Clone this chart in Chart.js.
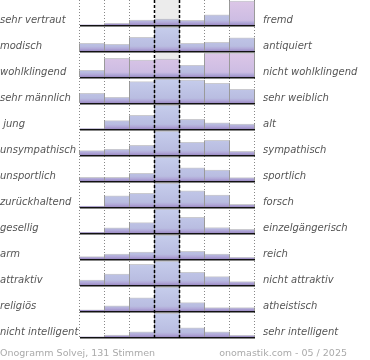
<!DOCTYPE html>
<html lang="de">
<head>
  <meta charset="UTF-8">
  <title>Onogramm Solvej</title>
  <script src="https://cdn.jsdelivr.net/npm/chart.js"></script>
  <style>
    html, body { margin: 0; padding: 0; background: #fff; }
    .wrap { position: relative; width: 370px; height: 360px; }
    .foot {
      position: absolute;
      top: 347px;
      font: 9.5px 'DejaVu Sans', sans-serif;
      line-height: 12px;
      color: #aaa;
      white-space: nowrap;
    }
    .foot.left { left: 0; }
    .foot.right { right: 23px; }
  </style>
</head>
<body>
  <div class="wrap">
    <canvas id="onogramm"></canvas>
    <div class="foot left">Onogramm Solvej, 131 Stimmen</div>
    <div class="foot right">onomastik.com - 05 / 2025</div>
  </div>

  <script>
    // left / right poles of each scale
    const leftLabels = ['sehr vertraut', 'modisch', 'wohlklingend', 'sehr männlich', ' jung', 'unsympathisch',
      'unsportlich', 'zurückhaltend', 'gesellig', 'arm', 'attraktiv', 'religiös', 'nicht intelligent'];
    const rightLabels = ['fremd', 'antiquiert', 'nicht wohlklingend', 'sehr weiblich', 'alt', 'sympathisch',
      'sportlich', 'forsch', 'einzelgängerisch', 'reich', 'nicht attraktiv', 'atheistisch', 'sehr intelligent'];
    const steps = ['1', '2', '3', '4', '5', '6', '7'];

    // bar heights per row, in % of the row's tallest bar
    const shares = [
      [0, 7, 21, 25, 19, 42, 100],
      [32, 28, 57, 100, 32, 36, 55],
      [28, 78, 71, 75, 49, 99, 100],
      [40, 24, 89, 100, 96, 82, 57],
      [2, 35, 57, 100, 40, 26, 20],
      [18, 24, 40, 100, 53, 61, 15],
      [15, 15, 32, 100, 55, 45, 14],
      [4, 47, 57, 100, 67, 50, 11],
      [3, 22, 43, 100, 65, 23, 15],
      [10, 20, 29, 100, 32, 20, 7],
      [21, 45, 86, 100, 53, 35, 14],
      [5, 22, 55, 100, 35, 14, 14],
      [0, 8, 22, 100, 38, 22, 7]
    ];

    const ROWS = leftLabels.length;
    const BAR_FILL = 24 / 26;     // tallest bar vs row height
    const LABEL_LIFT = 4.5 / 26;  // label sits just above the row baseline
    const Y_MAX = 337 / 26;
    const CENTER = 3;

    const labelFont = { family: "'DejaVu Sans', sans-serif", size: 10, style: 'italic' };

    function rowTicks(scale) {
      scale.ticks = leftLabels.map((_, r) => ({ value: ROWS - 1 - r + LABEL_LIFT })).reverse();
    }

    function barFill(ctx, r) {
      const chart = ctx.chart;
      const y = chart.scales.y;
      if (!y || !chart.chartArea || ctx.dataIndex === undefined) return '#c3c9e9';
      const base = ROWS - 1 - r;
      const bottom = y.getPixelForValue(base);
      const top = y.getPixelForValue(base + BAR_FILL);
      const row = shares[r];
      const max = Math.max(...row);
      const pink = row.indexOf(max) !== CENTER && row[ctx.dataIndex] >= 0.65 * max;
      const g = chart.ctx.createLinearGradient(0, top, 0, bottom);
      g.addColorStop(0, pink ? '#dcc6e7' : '#c6cdec');
      g.addColorStop(0.8, pink ? '#cdbde3' : '#b9bde1');
      g.addColorStop(0.9, '#b1a9d8');
      g.addColorStop(1, '#9c8bc5');
      return g;
    }

    const datasets = shares.map((row, r) => {
      const base = ROWS - 1 - r;
      const max = Math.max(...row);
      return {
        label: leftLabels[r].trim() + ' / ' + rightLabels[r],
        data: row.map(v => [base, base + v / max * BAR_FILL]),
        backgroundColor: ctx => barFill(ctx, r),
        borderColor: 'rgba(150,150,160,0.5)',
        borderWidth: { top: 1, left: 0, right: 0, bottom: 0 },
        grouped: false,
        barPercentage: 1,
        categoryPercentage: 1
      };
    });

    // center band, dotted / dashed column lines, bar edges and row baselines
    const gridPlugin = {
      id: 'onogrammGrid',
      beforeDatasetsDraw(chart) {
        const { ctx, chartArea: a, scales: { x } } = chart;
        const w = x.getPixelForValue(1) - x.getPixelForValue(0);
        const edge = i => x.getPixelForValue(i) - w / 2;
        ctx.save();
        ctx.fillStyle = '#ececec';
        ctx.fillRect(edge(CENTER), a.top, w, a.bottom - a.top);
        ctx.strokeStyle = '#888';
        ctx.lineWidth = 1;
        ctx.setLineDash([1, 2]);
        for (let i = 0; i <= steps.length; i++) {
          if (i === CENTER || i === CENTER + 1) continue;
          const px = Math.round(edge(i)) - 0.5;
          ctx.beginPath();
          ctx.moveTo(px, a.top);
          ctx.lineTo(px, a.bottom + 2);
          ctx.stroke();
        }
        ctx.restore();
      },
      afterDatasetsDraw(chart) {
        const { ctx, chartArea: a, scales: { x, y } } = chart;
        const w = x.getPixelForValue(1) - x.getPixelForValue(0);
        const edge = i => x.getPixelForValue(i) - w / 2;
        ctx.save();

        // side edges between neighbouring bars
        ctx.strokeStyle = '#9a9a9a';
        ctx.lineWidth = 1;
        shares.forEach((row, r) => {
          const bars = chart.getDatasetMeta(r).data;
          const baseY = bars[0].base;
          for (let i = 0; i <= steps.length; i++) {
            const tops = [bars[i - 1], bars[i]].filter(Boolean).map(b => b.y);
            const topY = Math.min(...tops);
            if (baseY - topY < 0.5) continue;
            const px = Math.round(edge(i)) - 0.5;
            ctx.beginPath();
            ctx.moveTo(px, baseY);
            ctx.lineTo(px, topY);
            ctx.stroke();
          }
        });

        // row baselines
        ctx.strokeStyle = '#111';
        ctx.lineWidth = 1.5;
        shares.forEach((row, r) => {
          const py = y.getPixelForValue(ROWS - 1 - r) + 0.75;
          ctx.beginPath();
          ctx.moveTo(edge(0), py);
          ctx.lineTo(edge(steps.length), py);
          ctx.stroke();
        });

        // dashed lines around the neutral column
        ctx.strokeStyle = '#000';
        ctx.lineWidth = 1.5;
        ctx.setLineDash([3, 2]);
        [CENTER, CENTER + 1].forEach(i => {
          const px = Math.round(edge(i)) - 0.5;
          ctx.beginPath();
          ctx.moveTo(px, a.top);
          ctx.lineTo(px, a.bottom + 2);
          ctx.stroke();
        });
        ctx.restore();
      }
    };

    new Chart(document.getElementById('onogramm'), {
      type: 'bar',
      data: { labels: steps, datasets: datasets },
      options: {
        responsive: true,
        maintainAspectRatio: false,
        animation: false,
        layout: { padding: { top: 0, left: 0, right: 0, bottom: 23 } },
        plugins: {
          legend: { display: false },
          tooltip: { enabled: false }
        },
        scales: {
          x: { type: 'category', display: false, offset: true },
          y: {
            position: 'left',
            min: 0,
            max: Y_MAX,
            bounds: 'data',
            grid: { display: false, drawTicks: false },
            border: { display: false },
            afterBuildTicks: rowTicks,
            afterFit: s => { s.width = 80; s.paddingTop = 0; s.paddingBottom = 0; },
            ticks: {
              autoSkip: false,
              crossAlign: 'far',
              padding: 0,
              color: '#555',
              font: labelFont,
              callback: v => leftLabels[ROWS - 1 - Math.floor(v)]
            }
          },
          y2: {
            position: 'right',
            min: 0,
            max: Y_MAX,
            bounds: 'data',
            grid: { display: false, drawTicks: false },
            border: { display: false },
            afterBuildTicks: rowTicks,
            afterFit: s => { s.width = 115; s.paddingTop = 0; s.paddingBottom = 0; },
            ticks: {
              autoSkip: false,
              crossAlign: 'near',
              padding: 8,
              color: '#555',
              font: labelFont,
              callback: v => rightLabels[ROWS - 1 - Math.floor(v)]
            }
          }
        }
      },
      plugins: [gridPlugin]
    });
  </script>
</body>
</html>
